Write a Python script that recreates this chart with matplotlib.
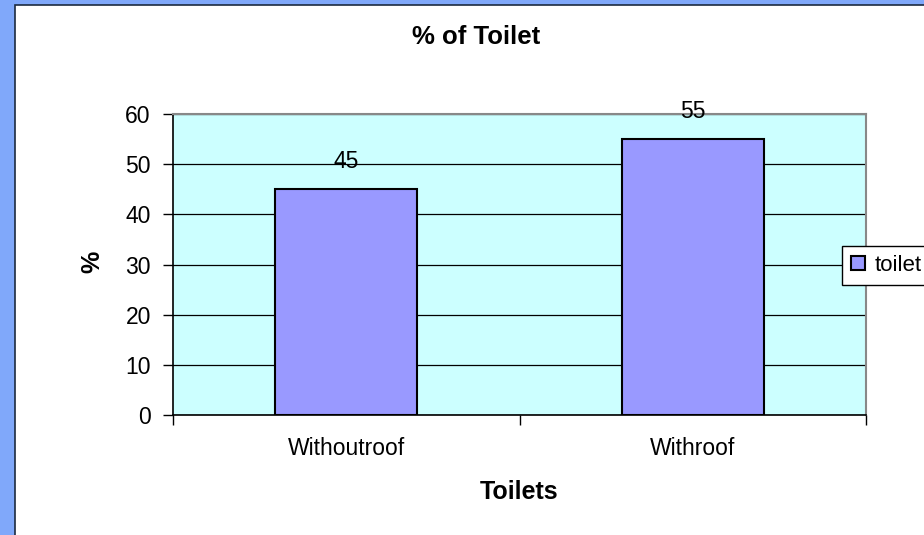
import matplotlib.pyplot as plt
from matplotlib.patches import Rectangle

categories = ["Withoutroof", "Withroof"]
values = [45, 55]
series_name = "toilet"
yticks = [0, 10, 20, 30, 40, 50, 60]

plt.rcParams["font.family"] = ["Liberation Sans", "DejaVu Sans"]

W, H = 924, 535
fig = plt.figure(figsize=(W / 100, H / 100), dpi=100, facecolor="#80a8fa")

# white chart area with dark edge over the blue slide background
fig.patches.append(Rectangle((15 / W, -0.01), 1.0, 1 - 5 / H + 0.01, transform=fig.transFigure,
                             facecolor="white", edgecolor="#1c2a40", lw=1.2, zorder=-10))

ax = fig.add_axes([173 / W, 1 - 415 / H, (866 - 173) / W, (415 - 114) / H])
ax.set_zorder(1)
ax.set_facecolor("#ccffff")
x = list(range(len(categories)))
ax.bar(x, values, width=0.41, color="#9999ff", edgecolor="black", lw=1.5, zorder=3,
       label=series_name)
for xi, v in zip(x, values):
    ax.annotate(str(v), (xi, v), xytext=(0, 15), textcoords="offset points",
                ha="center", va="baseline", fontsize=16.5, zorder=4)

ax.set_xlim(-0.5, len(categories) - 0.5)
ax.set_ylim(0, 60)
ax.set_yticks(yticks)
ax.yaxis.grid(True, color="black", lw=0.9)
ax.set_axisbelow(True)
ax.tick_params(axis="y", direction="out", length=7, width=1, pad=9, labelsize=16.5)
ax.set_xticks(x)
ax.set_xticklabels(categories)
ax.tick_params(axis="x", which="major", length=0, pad=16, labelsize=16.5)
ax.set_xticks([i - 0.5 for i in range(len(categories) + 1)], minor=True)
ax.tick_params(axis="x", which="minor", direction="out", length=7, width=1)
for s in ["left", "bottom"]:
    ax.spines[s].set_color("black")
    ax.spines[s].set_linewidth(1.2)
for s in ["top", "right"]:
    ax.spines[s].set_color("#888888")
    ax.spines[s].set_linewidth(1.5)

fig.text(476 / W, 1 - 44 / H, "% of Toilet", ha="center", va="baseline",
         fontsize=18.5, fontweight="bold")
fig.text(519 / W, 1 - 499 / H, "Toilets", ha="center", va="baseline",
         fontsize=18, fontweight="bold")
fig.text(92 / W, 1 - 262 / H, "%", ha="center", va="center", rotation=90,
         fontsize=18, fontweight="bold")

leg = fig.legend(loc="center left", bbox_to_anchor=(842 / W, 1 - 265.5 / H),
                 fontsize=16, frameon=True, fancybox=False, framealpha=1,
                 edgecolor="black", borderpad=0.4, handlelength=0.62, handleheight=0.62,
                 handletextpad=0.45, borderaxespad=0)
leg.get_frame().set_linewidth(1.0)
leg.set_zorder(5)

fig.savefig("out.png", dpi=100, facecolor=fig.get_facecolor())
